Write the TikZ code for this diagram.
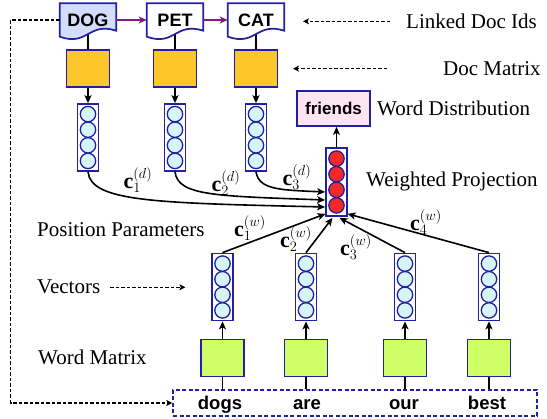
\documentclass[tikz,border=0pt]{standalone}
\usepackage{fontspec}
\setmainfont{Liberation Serif}
\newfontfamily\labelsans{Liberation Sans}
\usetikzlibrary{arrows.meta,backgrounds,calc}

\definecolor{edgeblue}{RGB}{32,32,165}
\definecolor{docorange}{RGB}{253,198,43}
\definecolor{wordgreen}{RGB}{206,255,102}
\definecolor{cellcyan}{RGB}{214,246,246}
\definecolor{cellred}{RGB}{245,40,40}
\definecolor{distpink}{RGB}{255,228,242}
\definecolor{docblue}{RGB}{212,222,250}
\definecolor{linkpurple}{RGB}{128,30,128}

\begin{document}
\begin{tikzpicture}[x=1pt,y=-1pt,
  box/.style={draw=edgeblue, line width=1.7pt},
  docbox/.style={minimum width=56pt, minimum height=33pt, inner sep=0pt,
    font=\labelsans\bfseries\fontsize{18}{20}\selectfont},
  matbox/.style={box, minimum width=43pt, minimum height=37pt, inner sep=0pt},
  vecbox/.style={box, fill=white, minimum width=21pt, minimum height=67pt, inner sep=0pt,
    path picture={\foreach \k in {-1.5,-0.5,0.5,1.5}
      \draw[draw=edgeblue, line width=1.3pt, fill=#1]
        ([yshift=\k*15.6pt]path picture bounding box.center) circle (7.7pt);}},
  conn/.style={line width=1.6pt, black},
  arr/.style={conn, -{Stealth[length=8pt,width=7pt,inset=2pt]}},
  dasharr/.style={line width=1.3pt, dash pattern=on 3.5pt off 2pt,
    -{Stealth[length=6pt,width=6pt,inset=1.5pt]}},
  lbl/.style={inner sep=0pt, font=\fontsize{21}{24}\selectfont},
  clbl/.style={inner sep=0pt, font=\fontsize{22}{24}\selectfont},
  word/.style={inner sep=0pt, font=\labelsans\bfseries\fontsize{18.5}{20}\selectfont}
]
\useasboundingbox (0,0) rectangle (547,419);

% linked document ids
\node[docbox] (dog) at (88,20) {DOG};
\node[docbox] (pet) at (175,20) {PET};
\node[docbox] (cat) at (256,20) {CAT};

% document matrix rows
\node[matbox, fill=docorange] (dm1) at (88,68.5) {};
\node[matbox, fill=docorange] (dm2) at (175,68.5) {};
\node[matbox, fill=docorange] (dm3) at (256,68.5) {};

% document vectors
\node[vecbox=cellcyan] (dv1) at (88,137.5) {};
\node[vecbox=cellcyan] (dv2) at (175,137.5) {};
\node[vecbox=cellcyan] (dv3) at (256,137.5) {};

% projection and output
\node[vecbox=cellred, minimum height=68pt] (proj) at (336.5,182) {};
\node[box, fill=distpink, minimum width=73pt, minimum height=35pt, inner sep=0pt,
  font=\labelsans\bfseries\fontsize{17}{18}\selectfont] (dist) at (333.5,108.5) {friends};

% word vectors and word matrix rows
\node[vecbox=cellcyan] (wv1) at (222.5,287) {};
\node[vecbox=cellcyan] (wv2) at (306,287) {};
\node[vecbox=cellcyan] (wv3) at (405,287) {};
\node[vecbox=cellcyan] (wv4) at (489,287) {};
\node[matbox, fill=wordgreen] (wm1) at (222.5,358) {};
\node[matbox, fill=wordgreen] (wm2) at (306,358) {};
\node[matbox, fill=wordgreen] (wm3) at (405,358) {};
\node[matbox, fill=wordgreen] (wm4) at (489,358) {};

% input words
\node[draw=edgeblue, line width=1.5pt, dash pattern=on 4pt off 2.5pt,
  minimum width=364pt, minimum height=26pt] (wbox) at (355,403) {};
\node[word, anchor=base] (w1) at (220,410) {dogs};
\node[word, anchor=base] (w2) at (307,410) {are};
\node[word, anchor=base] (w3) at (404,410) {our};
\node[word, anchor=base] (w4) at (487,410) {best};

% document outlines with wavy bottom edge
\begin{scope}[on background layer]
  \foreach \d in {dog,pet,cat}
    \draw[conn] ([yshift=4pt]\d.south) -- (dm1.north -| \d.south);
  \foreach \d/\c in {dog/docblue, pet/white, cat/white}
    \draw[box, fill=\c] (\d.north west) -- (\d.north east)
      -- ($(\d.south east)+(0,-6)$) .. controls +(-28,-9) and +(28,10) .. (\d.south west) -- cycle;
\end{scope}

% links between documents
\draw[conn, linkpurple, -{Stealth[length=8pt,width=7pt,inset=2pt]}] (dog.east) -- (pet.west);
\draw[conn, linkpurple, -{Stealth[length=8pt,width=7pt,inset=2pt]}] (pet.east) -- (cat.west);

% document path
\foreach \i in {1,2,3} \draw[arr] (dm\i.south) -- (dv\i.north);
\draw[arr] (dv1.south) .. controls +(3,30) and +(-170,-4) .. ($(proj.west)+(0,25)$);
\draw[arr] (dv2.south) .. controls +(3,24) and +(-110,-4) .. ($(proj.west)+(0,18)$);
\draw[arr] (dv3.south) .. controls +(3,18) and +(-45,-2) .. ($(proj.west)+(0,10)$);
\draw[arr] (proj.north) -- (proj.north |- dist.south);

% word path
\foreach \i in {1,...,4} {
  \draw[arr] (wm\i.north) -- (wv\i.south);
  \draw[conn] (wm\i.south) -- (wm\i.south |- wbox.north);
}
\draw[arr] (wv1.north) -- ($(proj.south)+(-11,-3)$);
\draw[arr] (wv2.north) -- ($(proj.south)+(-4,1)$);
\draw[arr] (wv3.north) -- ($(proj.south)+(3,1)$);
\draw[arr] (wv4.north) -- ($(proj.south)+(11,-3)$);

% position parameters
\node[clbl] (cd1) at (138,180) {$\mathbf{c}_1^{(d)}$};
\node[clbl] (cd2) at (226,183) {$\mathbf{c}_2^{(d)}$};
\node[clbl] (cd3) at (297,177) {$\mathbf{c}_3^{(d)}$};
\node[clbl] (cw1) at (250,228) {$\mathbf{c}_1^{(w)}$};
\node[clbl] (cw2) at (296,239) {$\mathbf{c}_2^{(w)}$};
\node[clbl] (cw3) at (356,247) {$\mathbf{c}_3^{(w)}$};
\node[clbl] (cw4) at (426,222) {$\mathbf{c}_4^{(w)}$};

% side captions
\node[lbl, anchor=base west] (lid) at (406,28.5) {Linked Doc Ids};
\node[lbl, anchor=base west] (ldm) at (443,75.5) {Doc Matrix};
\node[lbl, anchor=base west] (lwd) at (377,115.5) {Word Distribution};
\node[lbl, anchor=base west] (lwp) at (366,187) {Weighted Projection};
\node[lbl, anchor=base west] (lpp) at (37,237) {Position Parameters};
\node[lbl, anchor=base west] (lvec) at (37,294) {Vectors};
\node[lbl, anchor=base west] (lwm) at (38,365) {Word Matrix};
\draw[dasharr] ($(lid.west)+(-16,0)$) -- ++(-87,0);
\draw[dasharr] ($(ldm.west)+(-56,0)$) -- ++(-94,0);
\draw[dasharr] ($(lvec.east)+(10,0)$) -- ++(75,0);

% document ids feed the input sequence
\draw[dasharr] (dog.west) -- ++(-49,0) |- (wbox.west);
\end{tikzpicture}
\end{document}
